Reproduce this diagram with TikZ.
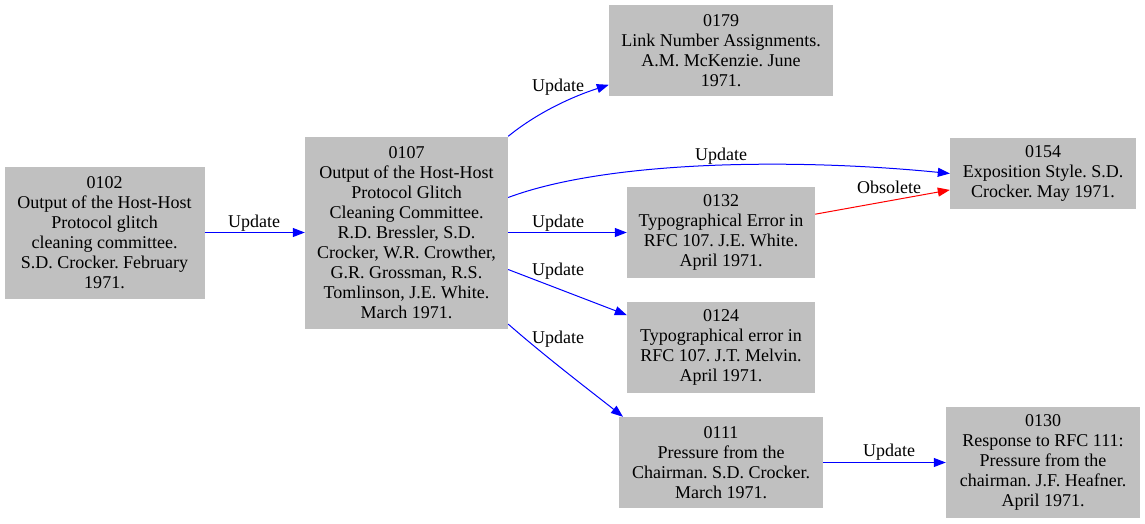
\documentclass[tikz,border=0pt]{standalone}
\usepackage{fontspec}
\setmainfont{Liberation Serif}
\usepackage{tikz}
\usetikzlibrary{arrows.meta, positioning}
\frenchspacing

\definecolor{rfcgray}{RGB}{192,192,192}
\definecolor{upblue}{RGB}{0,0,255}
\definecolor{obsred}{RGB}{255,0,0}

\begin{document}
\begin{tikzpicture}[x=1pt, y=-1pt,
		rfc/.style={fill=rfcgray, align=center, inner sep=0pt, font=\fontsize{18}{20}\selectfont},
		lbl/.style={inner sep=0pt, font=\fontsize{18}{20}\selectfont},
		upd/.style={draw=upblue, line width=1pt, -{Triangle[length=12pt, width=9pt]}},
		obs/.style={draw=obsred, line width=1pt, -{Triangle[length=12pt, width=9pt]}}]
		\useasboundingbox (0,0) rectangle (1145,523);
		
		\node [rfc, minimum width=200pt, minimum height=132pt] (n0102) at (104.5,232.5) {0102\\Output of the Host-Host\\Protocol glitch\\cleaning committee.\\S.D. Crocker. February\\1971.};
		\node [rfc, minimum width=203pt, minimum height=192pt] (n0107) at (406.5,232.5) {0107\\Output of the Host-Host\\Protocol Glitch\\Cleaning Committee.\\R.D. Bressler, S.D.\\Crocker, W.R. Crowther,\\G.R. Grossman, R.S.\\Tomlinson, J.E. White.\\March 1971.};
		\node [rfc, minimum width=224pt, minimum height=91pt] (n0179) at (721,50.5) {0179\\Link Number Assignments.\\A.M. McKenzie. June\\1971.};
		\node [rfc, minimum width=186pt, minimum height=71pt] (n0154) at (1043,173.5) {0154\\Exposition Style. S.D.\\Crocker. May 1971.};
		\node [rfc, minimum width=188pt, minimum height=91pt] (n0132) at (721,232.5) {0132\\Typographical Error in\\RFC 107. J.E. White.\\April 1971.};
		\node [rfc, minimum width=188pt, minimum height=91pt] (n0124) at (721,347.5) {0124\\Typographical error in\\RFC 107. J.T. Melvin.\\April 1971.};
		\node [rfc, minimum width=204pt, minimum height=91pt] (n0111) at (721,462.5) {0111\\Pressure from the\\Chairman. S.D. Crocker.\\March 1971.};
		\node [rfc, minimum width=194pt, minimum height=111pt] (n0130) at (1043,462.5) {0130\\Response to RFC 111:\\Pressure from the\\chairman. J.F. Heafner.\\April 1971.};
		
		% edges
		\draw [upd] (n0102) -- (n0107);
		\draw [upd] (n0107.north east) .. controls +(27,-22) and +(-40,13) .. (n0179.197);
		\draw [upd] (n0107.19) .. controls +(102,-38) and +(-150,-15) .. (n0154.west);
		\draw [upd] (n0107) -- (n0132);
		\draw [upd] (n0107.-20) -- (n0124.161);
		\draw [upd] (n0107.-42) .. controls +(40,35) and +(-25,-20) .. (n0111.155);
		\draw [obs] (n0132.11) -- (n0154.190);
		\draw [upd] (n0111) -- (n0130);
		
		% labels
		\foreach \x/\y [count=\i] in {254/223, 558/87, 721/156, 558/223, 558/271, 558/339, 889/452}
			\node [lbl] (upd\i) at (\x,\y) {Update};
		\node [lbl] (obs1) at (889,187) {Obsolete};
\end{tikzpicture}
\end{document}
